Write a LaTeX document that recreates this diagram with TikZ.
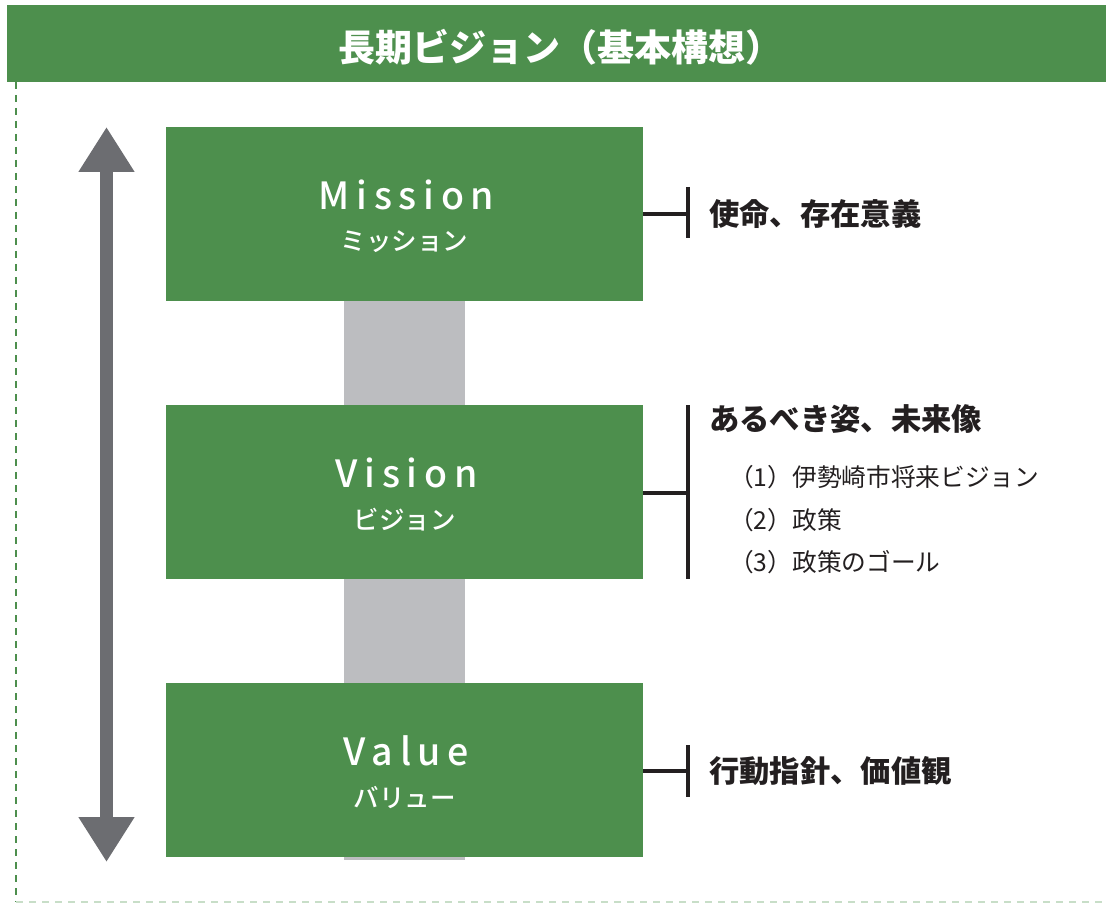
\documentclass[tikz,border=0pt]{standalone}
\usepackage{fontspec}
\setmainfont{Noto Sans CJK JP}
\newfontfamily\latinsp[LetterSpace=18]{Noto Sans CJK JP Medium}
\newfontfamily\jpm{Noto Sans CJK JP Medium}
\usetikzlibrary{arrows.meta,calc}
\definecolor{vgreen}{RGB}{77,143,77}
\definecolor{vlgreen}{RGB}{200,222,200}
\definecolor{vgray}{RGB}{108,109,113}
\definecolor{vbar}{RGB}{188,189,192}
\definecolor{vdark}{RGB}{35,31,32}
\tikzset{
  greenbox/.style={fill=vgreen, draw=none, minimum width=477pt, minimum height=174pt, inner sep=0pt},
  boxtitle/.style={text=white, font=\latinsp\fontsize{37.5}{40}\selectfont, inner sep=0pt},
  boxsub/.style={text=white, font=\jpm\fontsize{25.5}{28}\selectfont, inner sep=0pt},
  bracketline/.style={draw=vdark, line width=3.5pt},
  headtext/.style={anchor=west, text=vdark, font=\bfseries\fontsize{30.3}{34}\selectfont, inner sep=0pt},
  itemtext/.style={anchor=west, text=vdark, font=\fontsize{24.7}{27}\selectfont, inner sep=0pt},
  bigarrow/.style={draw=vgray, line width=13pt, {Triangle[width=53pt,length=45pt]}-{Triangle[width=53pt,length=45pt]}},
}
\begin{document}
\begin{tikzpicture}[x=1pt,y=-1pt]
\useasboundingbox (0,0) rectangle (1106,904);
% title bar
\node[fill=vgreen, minimum width=1099pt, minimum height=77pt, inner sep=0pt, anchor=north west] (title) at (7,5) {};
\node[text=white, font=\bfseries\fontsize{37}{40}\selectfont, inner sep=0pt] (titletext) at (560,47) {長期ビジョン（基本構想）};
% dashed frame
\coordinate (fl1) at (16,82);
\coordinate (fl2) at (16,902);
\coordinate (fb2) at (1106,902);
\draw[vgreen, line width=2.5pt, dash pattern=on 7pt off 6pt] (fl1) -- (fl2);
\draw[vlgreen, line width=2pt, dash pattern=on 7pt off 6pt] (fl2) -- (fb2);
% gray connecting bar
\fill[vbar] (344,300) rectangle (465,860);
% arrow
\coordinate (atop) at (106.5,127);
\coordinate (abot) at (106.5,862);
\draw[bigarrow] (atop) -- (abot);
% boxes
\node[greenbox] (m) at (404.5,214) {};
\node[greenbox] (v) at (404.5,492) {};
\node[greenbox] (w) at (404.5,770) {};
\node[boxtitle] (mt) at ($(m.center)+(2,-19)$) {Mission};
\node[boxsub] (ms) at ($(m.center)+(0,28)$) {ミッション};
\node[boxtitle] (vt) at ($(v.center)+(2,-19)$) {Vision};
\node[boxsub] (vs) at ($(v.center)+(0,28)$) {ビジョン};
\node[boxtitle] (wt) at ($(w.center)+(2,-19)$) {Value};
\node[boxsub] (ws) at ($(w.center)+(0,28)$) {バリュー};
% brackets
\coordinate (mb) at (688,214);
\coordinate (mb1) at (688,187);
\coordinate (mb2) at (688,238);
\draw[bracketline] (m.east) -- (mb);
\draw[bracketline] (mb1) -- (mb2);
\coordinate (vb) at (688,493);
\coordinate (vb1) at (688,405);
\coordinate (vb2) at (688,579);
\draw[bracketline] (v.east |- vb) -- (vb);
\draw[bracketline] (vb1) -- (vb2);
\coordinate (wb) at (688,771);
\coordinate (wb1) at (688,745);
\coordinate (wb2) at (688,797);
\draw[bracketline] (w.east |- wb) -- (wb);
\draw[bracketline] (wb1) -- (wb2);
% texts
\node[headtext] (mh) at (709,214) {使命、存在意義};
\node[headtext] (vh) at (709,419) {あるべき姿、未来像};
\node[itemtext] (v1) at (729,477) {（1）伊勢崎市将来ビジョン};
\node[itemtext] (v2) at (729,520) {（2）政策};
\node[itemtext] (v3) at (729,562) {（3）政策のゴール};
\node[headtext] (wh) at (709,771) {行動指針、価値観};
\end{tikzpicture}
\end{document}
